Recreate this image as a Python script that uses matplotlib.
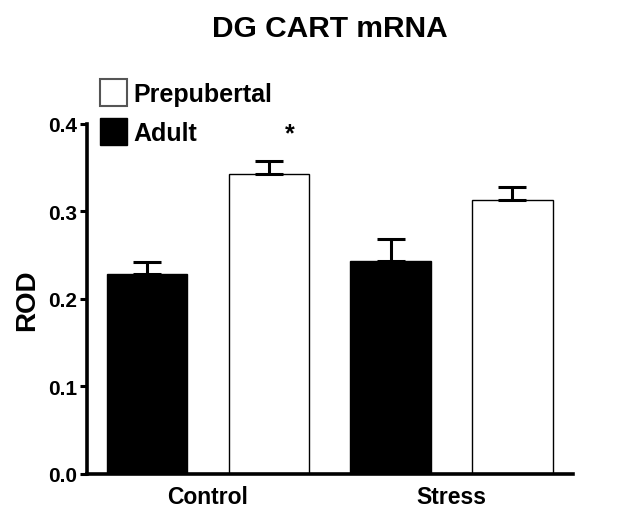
import numpy as np
import matplotlib.pyplot as plt
from matplotlib.patches import Patch

plt.rcParams['font.family'] = ['Liberation Sans', 'DejaVu Sans']
plt.rcParams['font.weight'] = 'bold'

groups = ['Control', 'Stress']
adult = [0.229, 0.243]
adult_err = [0.013, 0.025]
prepub = [0.343, 0.313]
prepub_err = [0.015, 0.015]

fig = plt.figure(figsize=(6.32, 5.1), dpi=100)
ax = fig.add_axes([0.138, 0.069, 0.769, 0.686])

pos = np.arange(len(groups)) * 2
w = 0.66
ekw = dict(elinewidth=2.2, capthick=2.2, capsize=10, ecolor='black')
ax.bar(pos, adult, w, color='black', edgecolor='black', linewidth=1,
       yerr=[np.zeros(2), adult_err], error_kw=ekw, label='Adult')
ax.bar(pos + 1, prepub, w, color='white', edgecolor='black', linewidth=1,
       yerr=[np.zeros(2), prepub_err], error_kw=ekw, label='Prepubertal')

# significance mark
ax.text(pos[0] + 1.17, prepub[0] + prepub_err[0] + 0.018, '*', ha='center', va='bottom',
        fontsize=18, fontweight='bold')

ax.set_xlim(-0.49, 3.5)
ax.set_ylim(0, 0.4)
ax.set_yticks([0.0, 0.1, 0.2, 0.3, 0.4])
ax.set_yticklabels(['0.0', '0.1', '0.2', '0.3', '0.4'])
ax.set_xticks(pos + 0.5)
ax.set_xticklabels(groups, fontsize=16.5, fontweight='bold')
ax.tick_params(axis='x', length=0, pad=8)
ax.tick_params(axis='y', length=5, width=2.2, labelsize=15, pad=2)
for lab in ax.get_yticklabels():
    lab.set_fontweight('bold')

for s in ['top', 'right']:
    ax.spines[s].set_visible(False)
for s in ['left', 'bottom']:
    ax.spines[s].set_linewidth(2.6)

ax.set_ylabel('ROD', fontsize=20, fontweight='bold', labelpad=6)
fig.text(0.522, 0.944, 'DG CART mRNA', ha='center', va='center',
         fontsize=21.5, fontweight='bold')

handles = [Patch(facecolor='white', edgecolor='#555555', linewidth=1.5, label='Prepubertal'),
           Patch(facecolor='black', edgecolor='black', label='Adult')]
ax.legend(handles=handles, loc='upper left', bbox_to_anchor=(0.158, 0.843),
          bbox_transform=fig.transFigure, frameon=False,
          handlelength=1.1, handleheight=1.3, handletextpad=0.25, labelspacing=0.45,
          borderaxespad=0, borderpad=0, prop={'weight': 'bold', 'size': 18})

fig.savefig('out.png', dpi=100)
